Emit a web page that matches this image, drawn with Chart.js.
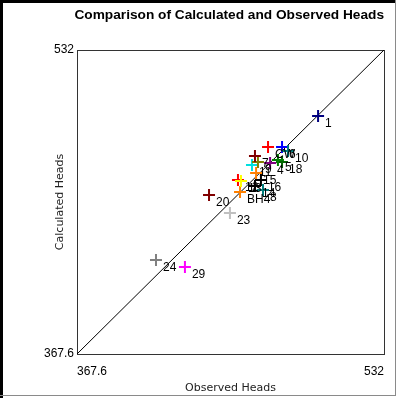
<!DOCTYPE html>
<html>
<head>
<meta charset="utf-8">
<script src="https://cdn.jsdelivr.net/npm/chart.js@4"></script>
<style>
  html, body { margin: 0; padding: 0; background: #fff; }
  #wrap { position: relative; width: 400px; height: 398px; }
  canvas { position: absolute; left: 0; top: 0; }
  .fl { position: absolute; pointer-events: none; }
</style>
</head>
<body>
<div id="wrap">
  <canvas id="c" width="400" height="398"></canvas>
  <div class="fl" style="left:0;top:0;width:3px;height:398px;background:#000"></div>
  <div class="fl" style="left:0;top:0;width:396px;height:3px;background:#000"></div>
  <div class="fl" style="left:395px;top:0;width:1px;height:396px;background:#8a8a8a"></div>
  <div class="fl" style="left:0;top:395px;width:396px;height:1px;background:#8a8a8a"></div>
</div>
<script>
const chartTitle = 'Comparison of Calculated and Observed Heads';
const xTitle = 'Observed Heads';
const yTitle = 'Calculated Heads';
const axisMin = 367.6;
const axisMax = 532;

const pointLabels = ['1', '24', '29', '23', '20', 'BH4', '12', '13', '14', '16', '8', '15', '11', '9', '7', '4', '18', '5', 'CW', '6', '10'];
const observed   = [496.7, 409.9, 425.4, 449.5, 438.3, 454.9, 453.8, 455.4, 462.9, 466.1, 467.2, 463.5, 461.3, 464.5, 462.9, 471.0, 477.4, 475.2, 469.9, 477.4, 480.6];
const calculated = [496.3, 418.4, 414.6, 443.9, 453.6, 455.2, 461.7, 461.2, 458.5, 461.7, 456.3, 465.5, 469.8, 471.4, 474.7, 470.9, 471.4, 472.5, 479.5, 479.5, 477.4];
const pointColors = ['#000080', '#808080', '#ff00ff', '#c0c0c0', '#800000', '#ff8000', '#ff0000', '#ffff00', '#000000', '#000000', '#008080', '#ff8000', '#00e0e0', '#808000', '#800000', '#800080', '#006400', '#008000', '#ff0000', '#0000ff', '#008080'];

const pts = observed.map((v, i) => ({ x: v, y: calculated[i] }));

const boxPlugin = {
  id: 'boxAndLabels',
  beforeDatasetsDraw(chart) {
    const a = chart.chartArea, ctx = chart.ctx;
    ctx.save();
    ctx.strokeStyle = '#333';
    ctx.lineWidth = 1;
    ctx.strokeRect(Math.round(a.left) + 0.5, Math.round(a.top) + 0.5, Math.round(a.right - a.left), Math.round(a.bottom - a.top));
    ctx.restore();
  },
  afterDatasetsDraw(chart) {
    const ctx = chart.ctx;
    const xs = chart.scales.x, ys = chart.scales.y;
    ctx.save();
    ctx.font = '12px "Liberation Sans", Arial, sans-serif';
    ctx.fillStyle = '#000';
    ctx.textBaseline = 'middle';
    ctx.textAlign = 'left';
    pointLabels.forEach((t, i) => {
      const px = xs.getPixelForValue(observed[i]);
      const py = ys.getPixelForValue(calculated[i]);
      ctx.fillText(t, px + 7, py + 8);
    });
    ctx.restore();
  }
};

new Chart(document.getElementById('c'), {
  type: 'scatter',
  data: {
    datasets: [
      {
        type: 'line',
        data: [{ x: axisMin, y: axisMin }, { x: axisMax, y: axisMax }],
        borderColor: '#000',
        borderWidth: 1,
        pointRadius: 0,
        fill: false,
        order: 2
      },
      {
        data: pts,
        pointStyle: 'cross',
        pointRadius: 6,
        pointBorderWidth: 2,
        pointBorderColor: pointColors,
        pointBackgroundColor: pointColors,
        order: 1
      }
    ]
  },
  options: {
    responsive: false,
    animation: false,
    devicePixelRatio: 1,
    layout: { padding: { left: 0, right: 16, top: 0, bottom: 0 } },
    plugins: {
      legend: { display: false },
      tooltip: { enabled: false },
      title: {
        display: true,
        text: chartTitle,
        align: 'end',
        color: '#000',
        font: { family: '"Liberation Sans", Arial, sans-serif', size: 13.7, weight: 'bold' },
        padding: { top: 7.5, bottom: 26 }
      }
    },
    scales: {
      x: {
        type: 'linear',
        min: axisMin,
        max: axisMax,
        grid: { display: false, drawTicks: false },
        border: { display: false },
        afterBuildTicks(s) { s.ticks = [{ value: axisMin }, { value: axisMax }]; },
        afterFit(s) { s.height = 44; },
        ticks: {
          align: 'inner',
          padding: 10,
          color: '#000',
          font: { family: '"Liberation Sans", Arial, sans-serif', size: 12 },
          callback: v => (v === axisMin ? '367.6' : '532')
        },
        title: {
          display: true,
          text: xTitle,
          color: '#222',
          padding: { top: 2, bottom: 3.5 },
          font: { family: '"DejaVu Sans", Verdana, sans-serif', size: 11 }
        }
      },
      y: {
        type: 'linear',
        min: axisMin,
        max: axisMax,
        grid: { display: false, drawTicks: false },
        border: { display: false },
        afterBuildTicks(s) { s.ticks = [{ value: axisMin }, { value: axisMax }]; },
        afterFit(s) { s.width = 77; },
        ticks: {
          padding: 3,
          color: '#000',
          font: { family: '"Liberation Sans", Arial, sans-serif', size: 12 },
          callback: v => (v === axisMin ? '367.6' : '532')
        },
        title: {
          display: true,
          text: yTitle,
          color: '#222',
          padding: { top: 54, bottom: 0 },
          font: { family: '"DejaVu Sans", Verdana, sans-serif', size: 11 }
        }
      }
    }
  },
  plugins: [boxPlugin]
});
</script>
</body>
</html>
